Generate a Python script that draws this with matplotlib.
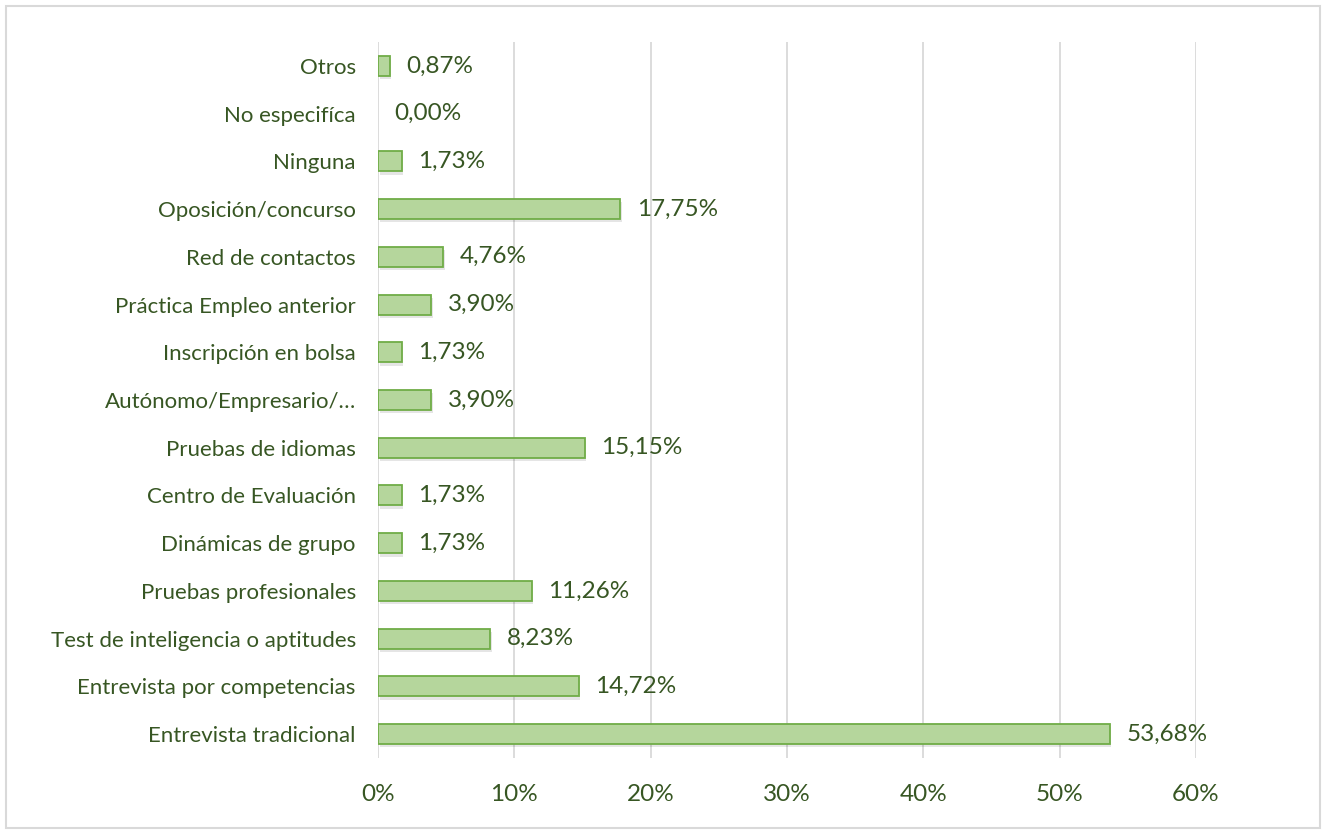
import numpy as np
import matplotlib.pyplot as plt
from matplotlib.patches import Rectangle

categorias = ["Entrevista tradicional", "Entrevista por competencias",
              "Test de inteligencia o aptitudes", "Pruebas profesionales",
              "Dinámicas de grupo", "Centro de Evaluación", "Pruebas de idiomas",
              "Autónomo/Empresario/…", "Inscripción en bolsa",
              "Práctica Empleo anterior", "Red de contactos", "Oposición/concurso",
              "Ninguna", "No especifíca", "Otros"]
valores = [53.68, 14.72, 8.23, 11.26, 1.73, 1.73, 15.15, 3.90, 1.73,
           3.90, 4.76, 17.75, 1.73, 0.00, 0.87]
ticks_x = [0, 10, 20, 30, 40, 50, 60]

texto = '#375623'
plt.rcParams['font.family'] = ['Lato', 'DejaVu Sans']

fig = plt.figure(figsize=(13.26, 8.34), dpi=100)
fig.patches.append(Rectangle((6 / 1326, 6 / 834), 1314 / 1326, 822 / 834,
                             transform=fig.transFigure, fill=False,
                             edgecolor='#d9d9d9', linewidth=1.5))
ax = fig.add_axes([378 / 1326, 1 - 758 / 834, 818 / 1326, 716 / 834])

y = np.arange(len(categorias))
anchos_borde = [1.3 if v > 0 else 0 for v in valores]
barras = ax.barh(y, valores, height=0.42, color='#b5d69c',
                 edgecolor='#70ad47', linewidth=anchos_borde, zorder=3)

for b, v in zip(barras, valores):
    if v > 0:
        # sombra ligera
        ax.add_patch(Rectangle((b.get_x() + 0.12, b.get_y() - 0.07), b.get_width(),
                               b.get_height(), color='#000000', alpha=0.10,
                               zorder=2, linewidth=0))
    ax.annotate(f"{v:.2f}%".replace('.', ','), (v, b.get_y() + b.get_height() / 2),
                xytext=(12, 0), textcoords='offset points', va='center',
                ha='left', fontsize=17.5, color=texto)

ax.set_xlim(0, 60)
ax.set_ylim(-0.5, len(categorias) - 0.5)
ax.set_xticks(ticks_x)
ax.set_xticklabels([f"{t}%" for t in ticks_x], fontsize=17.5, color=texto)
ax.set_yticks(y)
ax.set_yticklabels(categorias, fontsize=16, color=texto)
ax.tick_params(length=0, axis='y', pad=16)
ax.tick_params(length=0, axis='x', pad=19)
ax.grid(axis='x', color='#d9d9d9', linewidth=1.3, zorder=0)
ax.set_axisbelow(True)
for s in ax.spines.values():
    s.set_visible(False)

fig.savefig('out.png', dpi=100)
